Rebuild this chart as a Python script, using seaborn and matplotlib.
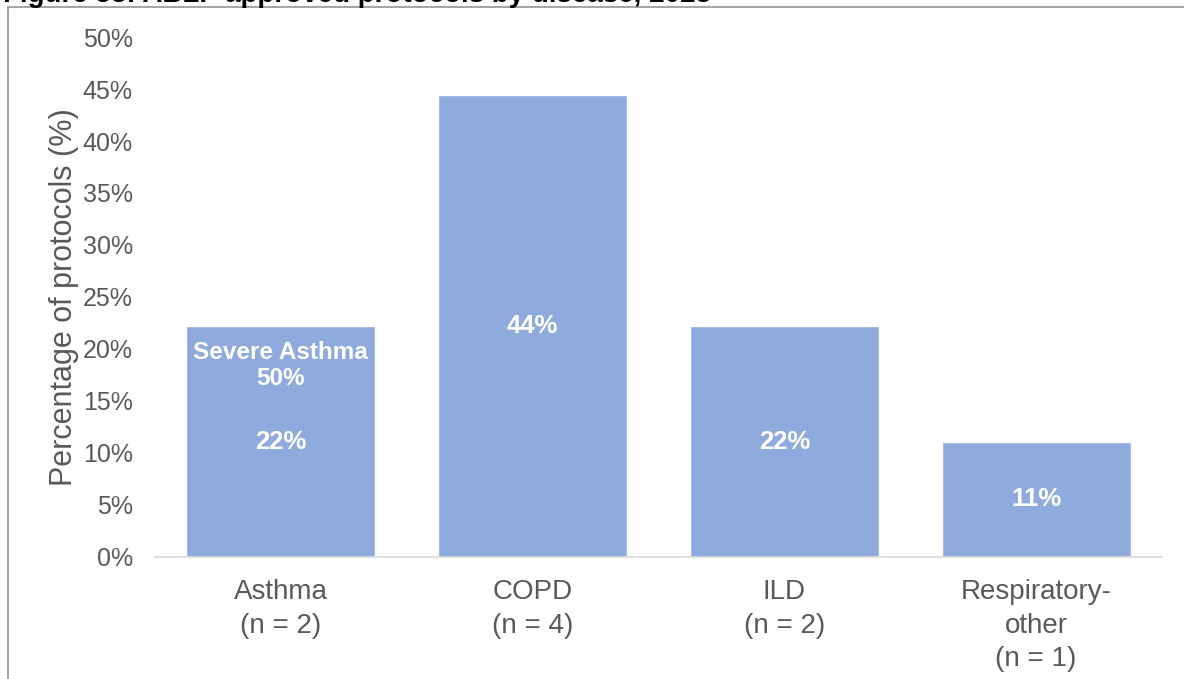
import matplotlib
matplotlib.use("Agg")
import matplotlib.pyplot as plt
import seaborn as sns
import pandas as pd
from matplotlib.patches import Rectangle

diseases = ["Asthma\n(n = 2)", "COPD\n(n = 4)", "ILD\n(n = 2)", "Respiratory-\nother\n(n = 1)"]
share = [0.222, 0.444, 0.222, 0.111]
pct_labels = ["22%", "44%", "22%", "11%"]
sub_note = "Severe Asthma\n50%"
sub_note_y = 0.184
yticks = [0, 0.05, 0.10, 0.15, 0.20, 0.25, 0.30, 0.35, 0.40, 0.45, 0.50]
title = "Figure 53: ABLP approved protocols by disease, 2023"

df = pd.DataFrame({"Disease": diseases, "Share": share})

sns.set_style("white")
plt.rcParams["font.family"] = ["Liberation Sans", "DejaVu Sans"]
grey = "#595959"

fig = plt.figure(figsize=(11.84, 6.79), dpi=100)
ax = fig.add_axes([0.1309, 0.1797, 0.8505, 0.7658])

sns.barplot(data=df, x="Disease", y="Share", color="#8FAADC", saturation=1,
            width=0.75, ax=ax)

ax.bar_label(ax.containers[0], labels=pct_labels, label_type="center",
             color="white", fontsize=18.5, fontweight="bold")
ax.text(0, sub_note_y, sub_note, ha="center", va="center", color="white",
        fontsize=17.5, fontweight="bold", linespacing=1.15)

ax.set_ylim(0, 0.5)
ax.set_xlim(-0.5, 3.5)
ax.set_yticks(yticks)
ax.set_yticklabels([f"{t:.0%}" for t in yticks])
ax.tick_params(axis="y", length=0, pad=16, labelsize=18, labelcolor=grey)
ax.tick_params(axis="x", length=0, pad=16, labelsize=20, labelcolor=grey)
for lab in ax.get_xticklabels():
    lab.set_linespacing(1.38)

ax.set_xlabel("")
ax.set_ylabel("Percentage of protocols (%)", fontsize=22, color=grey)
ax.yaxis.set_label_coords(-0.075, 0.5)

for s in ["top", "right", "left"]:
    ax.spines[s].set_visible(False)
ax.spines["bottom"].set_color("#D9D9D9")
ax.spines["bottom"].set_linewidth(1.2)

# outer frame of the figure box, cut off right and bottom
fig.patches.append(Rectangle((8 / 1184, -0.1), 1.2, 1 - 7 / 679 + 0.1,
                             transform=fig.transFigure, fill=False,
                             edgecolor="#A6A6A6", linewidth=1.5))

fig.text(3 / 1184, 1 - 1.5 / 679, title, ha="left", va="baseline",
         fontsize=20, fontweight="bold", color="black")

fig.savefig("out.png", dpi=100)
